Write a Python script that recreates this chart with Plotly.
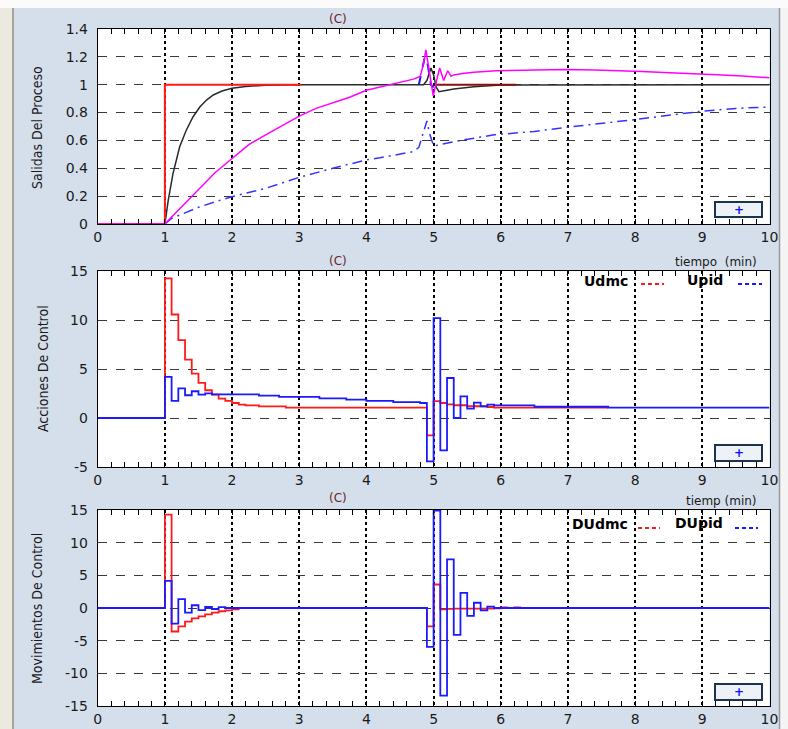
import plotly.graph_objects as go

W, H = 788, 729

# ---------------- Process outputs (top panel) ----------------
ref_t = [0, 1, 1, 3.03]
ref_y = [0, 0, 1, 1]

ref2_t = [5.04, 6.23]
ref2_y = [1, 1]

dmc_t = [0, 1, 1.05, 1.12, 1.22, 1.32, 1.42, 1.52, 1.62, 1.72, 1.85, 2.0, 2.2, 2.5, 3.0,
         4.85, 4.9, 4.96, 5.0, 5.04, 5.08, 5.15, 5.3, 5.6, 6.0, 10]
dmc_y = [0, 0, 0.17, 0.36, 0.555, 0.675, 0.77, 0.84, 0.89, 0.926, 0.955, 0.974, 0.988, 0.996, 1.0,
         1.0, 1.03, 1.12, 1.07, 0.98, 0.95, 0.955, 0.97, 0.985, 0.998, 1.0]

pid_t = [0, 1, 1.1, 1.3, 1.5, 1.75, 2.0, 2.25, 2.5, 2.75, 3.0, 3.25, 3.5, 3.75, 4.0, 4.25, 4.5,
         4.7, 4.8, 4.85, 4.885, 4.93, 4.97, 4.995, 5.04, 5.09, 5.15, 5.21, 5.26, 5.3, 5.43, 5.6,
         5.93, 6.3, 6.63, 6.97, 7.4, 7.82, 8.1, 8.6, 8.95, 9.3, 9.6, 10]
pid_y = [0, 0, 0.05, 0.15, 0.25, 0.37, 0.47, 0.57, 0.64, 0.71, 0.775, 0.83, 0.87, 0.91, 0.96, 0.99, 1.02,
         1.04, 1.06, 1.15, 1.25, 1.1, 1.0, 0.92, 1.02, 1.12, 1.03, 1.1, 1.06, 1.07, 1.08, 1.09,
         1.1, 1.105, 1.11, 1.11, 1.105, 1.1, 1.095, 1.085, 1.075, 1.07, 1.062, 1.05]

slow_t = [1, 1.1, 1.3, 1.5, 1.75, 2.0, 2.5, 3.0, 3.5, 4.0, 4.2, 4.5, 4.7, 4.78, 4.85, 4.9,
          4.94, 4.97, 5.0, 5.1, 5.4, 5.9, 6.5, 7.0, 7.5, 8.0, 8.5, 9.0, 9.5, 10]
slow_y = [0, 0.04, 0.08, 0.12, 0.16, 0.196, 0.256, 0.335, 0.40, 0.46, 0.475, 0.5, 0.52, 0.55, 0.66, 0.74,
          0.65, 0.6, 0.56, 0.57, 0.6, 0.64, 0.665, 0.695, 0.72, 0.75, 0.78, 0.81, 0.83, 0.84]

spike_t = [4.78, 4.83, 4.87, 4.9, 4.93, 4.96, 5.0]
spike_y = [1.0, 1.1, 1.2, 1.18, 1.08, 1.0, 0.98]

# ---------------- Control actions (middle panel) ----------------
udmc_t = [0, 1.0, 1.1, 1.2, 1.3, 1.4, 1.5, 1.6, 1.7, 1.8, 1.9, 2.0, 2.1, 2.2, 2.4, 2.8,
          4.9, 5.0, 5.1, 5.2, 5.3, 5.5, 5.8, 5.9, 7.6]
udmc_v = [0, 14.24, 10.56, 7.94, 5.96, 4.53, 3.58, 2.83, 2.39, 1.98, 1.74, 1.53, 1.36, 1.28, 1.18, 1.05,
          -1.77, 1.73, 1.53, 1.4, 1.3, 1.2, 1.12, 1.05, 1.05]

upid_t = [0, 1.0, 1.1, 1.2, 1.3, 1.4, 1.5, 1.6, 1.7, 2.4, 2.7, 3.3, 3.7, 4.0, 4.4, 4.8,
          4.9, 5.0, 5.1, 5.2, 5.3, 5.4, 5.5, 5.6, 5.7, 5.8, 5.9, 6.5, 7.6, 10]
upid_v = [0, 4.19, 1.74, 3.03, 2.32, 2.73, 2.39, 2.52, 2.42, 2.28, 2.15, 2.0, 1.87, 1.74, 1.63, 1.53,
          -4.42, 10.2, -3.3, 4.08, 0.0, 2.2, 0.95, 1.56, 1.19, 1.36, 1.28, 1.15, 1.05, 1.05]

# ---------------- Control moves (bottom panel) ----------------
dudmc_t = [0, 1.0, 1.1, 1.2, 1.3, 1.4, 1.5, 1.6, 1.7, 1.8, 1.9, 2.0, 2.1,
           4.9, 5.0, 5.1, 5.2, 5.3, 5.5, 5.8, 5.9, 6.0, 6.1, 6.2, 6.3]
dudmc_v = [0, 14.3, -3.6, -2.8, -2.1, -1.6, -1.27, -0.97, -0.7, -0.5, -0.35, -0.2, 0,
           -2.8, 3.6, -0.2, -0.13, -0.1, -0.1, -0.08, -0.07, 0.1, 0, 0.1, 0.1]

dupid_t = [0, 1.0, 1.1, 1.2, 1.3, 1.4, 1.5, 1.6, 1.7, 1.8, 1.9,
           4.9, 5.0, 5.1, 5.2, 5.3, 5.4, 5.5, 5.6, 5.7, 5.8, 5.9, 10]
dupid_v = [0, 4.15, -2.4, 1.35, -0.71, 0.42, -0.33, 0.15, -0.15, 0.12, 0,
           -5.95, 14.9, -13.4, 7.45, -4.1, 2.3, -1.2, 0.8, -0.35, 0.2, 0, 0]

x_ticks = list(range(0, 11))
top_ticks = [0, 0.2, 0.4, 0.6, 0.8, 1, 1.2, 1.4]
top_labels = ["0", "0.2", "0.4", "0.6", "0.8", "1", "1.2", "1.4"]
mid_ticks = [-5, 0, 5, 10, 15]
mid_labels = ["-5", "0", "5", "10", "15"]
bot_ticks = [-15, -10, -5, 0, 5, 10, 15]
bot_labels = ["-15", "-10", "-5", "0", "5", "10", "15"]

RED = "#ff1a1a"
BLUE = "#1a1aff"
MAGENTA = "#ff00ff"
DARK = "#2a2a2a"


def fx(px):
    return px / W


def fy(py):
    return 1 - py / H


fig = go.Figure()

# top panel
fig.add_trace(go.Scatter(x=slow_t, y=slow_y, mode="lines", xaxis="x", yaxis="y",
                         line=dict(color="#3333ff", width=1.5, dash="10px,5px,2px,5px")))
fig.add_trace(go.Scatter(x=spike_t, y=spike_y, mode="lines", xaxis="x", yaxis="y",
                         line=dict(color=BLUE, width=2, dash="dash")))
fig.add_trace(go.Scatter(x=dmc_t, y=dmc_y, mode="lines", xaxis="x", yaxis="y",
                         line=dict(color=DARK, width=1.5)))
fig.add_trace(go.Scatter(x=ref_t, y=ref_y, mode="lines", xaxis="x", yaxis="y",
                         line=dict(color=RED, width=2)))
fig.add_trace(go.Scatter(x=ref2_t, y=ref2_y, mode="lines", xaxis="x", yaxis="y",
                         line=dict(color="#8a1010", width=2)))
fig.add_trace(go.Scatter(x=pid_t, y=pid_y, mode="lines", xaxis="x", yaxis="y",
                         line=dict(color=MAGENTA, width=1.5)))

# middle panel
fig.add_trace(go.Scatter(x=udmc_t, y=udmc_v, mode="lines", line_shape="hv", xaxis="x2", yaxis="y2",
                         line=dict(color=RED, width=1.8)))
fig.add_trace(go.Scatter(x=upid_t, y=upid_v, mode="lines", line_shape="hv", xaxis="x2", yaxis="y2",
                         line=dict(color=BLUE, width=1.8)))

# bottom panel
fig.add_trace(go.Scatter(x=dudmc_t, y=dudmc_v, mode="lines", line_shape="hv", xaxis="x3", yaxis="y3",
                         line=dict(color=RED, width=1.8)))
fig.add_trace(go.Scatter(x=dupid_t, y=dupid_v, mode="lines", line_shape="hv", xaxis="x3", yaxis="y3",
                         line=dict(color=BLUE, width=1.8)))

tick_font = dict(family="DejaVu Sans", size=14, color="#1a1a1a")

xdom = [fx(97.7), fx(769.5)]
panels = [(29, 224), (271, 467), (510, 706)]


def xaxis(anchor):
    return dict(domain=xdom, anchor=anchor, range=[0, 10], tickvals=x_ticks,
                showline=True, linecolor="black", linewidth=1, mirror="ticks",
                ticks="inside", ticklen=5, tickcolor="black",
                minor=dict(ticks="inside", ticklen=5, dtick=0.2, tickcolor="black", showgrid=False),
                showgrid=True, gridcolor="black", griddash="dot", gridwidth=1.6,
                zeroline=False, tickfont=tick_font, automargin=False, fixedrange=True)


def yaxis(anchor, dom, rng, vals, labels):
    return dict(domain=[fy(dom[1]), fy(dom[0])], anchor=anchor, range=rng, tickvals=vals,
                ticktext=labels,
                showline=True, linecolor="black", linewidth=1, mirror=True,
                ticks="", showgrid=True, gridcolor="#3a3a3a", griddash="dash", gridwidth=1.3,
                zeroline=False, tickfont=tick_font, ticklabelstandoff=6, automargin=False,
                fixedrange=True)


shapes = []
annotations = []


def label(text, cx, cy, font, xanchor="center", angle=0):
    annotations.append(dict(x=fx(cx), y=fy(cy), xref="paper", yref="paper", text=text,
                            xanchor=xanchor, yanchor="middle", textangle=angle,
                            showarrow=False, font=font))


# window frame details
shapes.append(dict(type="rect", xref="paper", yref="paper", x0=0, x1=1, y0=fy(8), y1=1,
                   fillcolor="#fbfbfb", line=dict(width=0), layer="below"))
shapes.append(dict(type="rect", xref="paper", yref="paper", x0=0, x1=fx(12), y0=0, y1=fy(8),
                   fillcolor="#ece9e0", line=dict(width=0), layer="below"))
shapes.append(dict(type="line", xref="paper", yref="paper", x0=fx(13), x1=fx(13), y0=0, y1=fy(8),
                   line=dict(color="#a8a49a", width=2), layer="below"))
shapes.append(dict(type="rect", xref="paper", yref="paper", x0=fx(779), x1=1, y0=0, y1=fy(8),
                   fillcolor="#f4f4f4", line=dict(width=0), layer="below"))
shapes.append(dict(type="line", xref="paper", yref="paper", x0=fx(779.5), x1=fx(779.5), y0=0, y1=fy(8),
                   line=dict(color="#9a9a9a", width=1.5), layer="below"))

# small zoom buttons in each panel
buttons = [(715, 762, 202, 217), (715, 762, 445, 461), (715, 762, 684, 700)]
for x0, x1, y0, y1 in buttons:
    shapes.append(dict(type="rect", xref="paper", yref="paper", x0=fx(x0), x1=fx(x1),
                       y0=fy(y1), y1=fy(y0), fillcolor="#eef1f5",
                       line=dict(color="#1c3350", width=2), layer="above"))
    label("<b>+</b>", (x0 + x1) / 2, (y0 + y1) / 2,
          dict(family="DejaVu Sans", size=12, color="#1010ff"))

# panel titles
for ty in [19, 261, 498]:
    label("(C)", 338, ty, dict(family="DejaVu Sans", size=12, color="#6a2626"))

# axis titles
ylabels = [("Salidas Del Proceso", 37, 128), ("Acciones De Control", 43, 369),
           ("Movimientos De Control", 37, 609)]
for txt, cx, cy in ylabels:
    label(txt, cx, cy, dict(family="Liberation Sans Narrow, DejaVu Sans Condensed", size=14,
                            color="#1a1a1a"), angle=-90)

label("tiempo  (min)", 759, 262, dict(family="DejaVu Sans", size=12, color="#1a1a1a"), xanchor="right")
label("tiemp (min)", 759, 501, dict(family="DejaVu Sans", size=12, color="#1a1a1a"), xanchor="right")

# legend entries
legend_items = [("Udmc", 606, 281, RED, 641, 664, 284),
                ("Upid", 705, 280, BLUE, 738, 762, 284),
                ("DUdmc", 600, 524, RED, 638, 660, 528),
                ("DUpid", 699, 523, BLUE, 735, 758, 528)]
for txt, cx, cy, col, lx0, lx1, ly in legend_items:
    label("<b>" + txt + "</b>", cx, cy, dict(family="DejaVu Sans", size=14, color="black"))
    shapes.append(dict(type="line", xref="paper", yref="paper", x0=fx(lx0), x1=fx(lx1),
                       y0=fy(ly), y1=fy(ly), line=dict(color=col, width=2, dash="4px,3px"),
                       layer="above"))

fig.update_layout(
    width=W, height=H,
    margin=dict(l=0, r=0, t=0, b=0, autoexpand=False),
    paper_bgcolor="#d5dfec",
    plot_bgcolor="white",
    showlegend=False,
    xaxis=xaxis("y"),
    xaxis2=xaxis("y2"),
    xaxis3=xaxis("y3"),
    yaxis=yaxis("x", panels[0], [0, 1.4], top_ticks, top_labels),
    yaxis2=yaxis("x2", panels[1], [-5, 15], mid_ticks, mid_labels),
    yaxis3=yaxis("x3", panels[2], [-15, 15], bot_ticks, bot_labels),
    shapes=shapes,
    annotations=annotations,
)

fig.write_html("out.html", config=dict(displayModeBar=False))
